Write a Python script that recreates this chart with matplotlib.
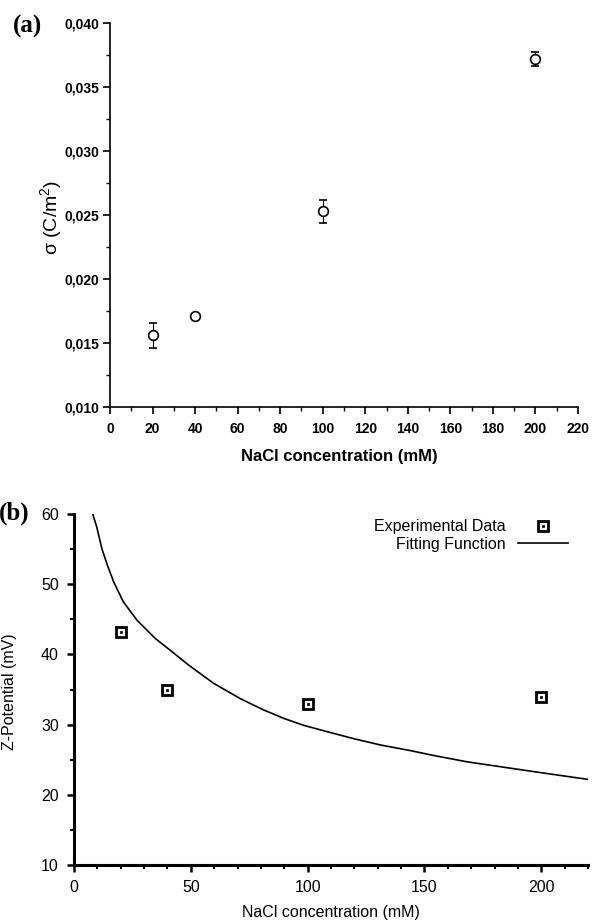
import numpy as np
import matplotlib
matplotlib.use('Agg')
import matplotlib.pyplot as plt
from matplotlib.ticker import MultipleLocator, FuncFormatter

plt.rcParams['font.family'] = ['Liberation Sans', 'DejaVu Sans']
plt.rcParams['mathtext.fontset'] = 'custom'
plt.rcParams['mathtext.rm'] = 'Liberation Sans'
plt.rcParams['mathtext.bf'] = 'Liberation Sans:bold'
plt.rcParams['mathtext.it'] = 'Liberation Sans:italic'

## panel (a): surface charge density vs NaCl concentration
conc_a = [20, 40, 100, 200]
sigma = [0.0156, 0.0171, 0.0253, 0.0372]
sigma_err = [0.0010, 0.0002, 0.0009, 0.00055]

## panel (b): zeta potential, measured points
conc_b = [20, 40, 100, 200]
zeta = [43.2, 34.9, 32.9, 33.9]

# fitting function
fit_x = [8.0, 9.7, 11.9, 14.3, 16.9, 21.1, 26.9, 34.7, 41.9, 49.0, 59.7,
         71.2, 81.1, 89.7, 98.3, 108.3, 119.7, 131.2, 144.0, 154.0, 168.3,
         182.6, 196.9, 220.0]
fit_y = [60.0, 58.2, 55.1, 52.7, 50.4, 47.5, 44.9, 42.3, 40.4, 38.5, 35.9,
         33.7, 32.1, 30.9, 29.9, 29.0, 28.0, 27.1, 26.3, 25.6, 24.7,
         24.0, 23.3, 22.2]

fig = plt.figure(figsize=(5.92, 9.23), dpi=100)

# ---------------- (a)
ax1 = fig.add_axes([0.1858, 0.5590, 0.7905, 0.4160])
ax1.errorbar(conc_a, sigma, yerr=sigma_err, fmt='o', mfc='white', mec='black',
             ms=7, mew=1.2, ecolor='black', elinewidth=0.8, capsize=3, capthick=0.8)
ax1.set_xlim(0, 220)
ax1.set_ylim(0.010, 0.040)
ax1.xaxis.set_major_locator(MultipleLocator(20))
ax1.xaxis.set_minor_locator(MultipleLocator(10))
ax1.yaxis.set_major_locator(MultipleLocator(0.005))
ax1.yaxis.set_minor_locator(MultipleLocator(0.0025))
ax1.yaxis.set_major_formatter(FuncFormatter(lambda v, p: ('%.3f' % v).replace('.', ',')))
for s in ['top', 'right']:
    ax1.spines[s].set_visible(False)
for s in ['left', 'bottom']:
    ax1.spines[s].set_linewidth(1.2)
ax1.tick_params(which='major', direction='out', length=5, width=1.2, labelsize=10, pad=3)
ax1.tick_params(which='minor', direction='out', length=3, width=1.0)
ax1.tick_params(axis='x', pad=6)
for lab in ax1.get_xticklabels() + ax1.get_yticklabels():
    lab.set_fontweight('bold')
ax1.set_xlabel('NaCl concentration (mM)', fontsize=12, fontweight='bold', va='center')
ax1.xaxis.set_label_coords(0.491, -0.130)
ax1.set_ylabel(r'σ (C/m$^{2}$)', fontsize=14, va='center')
ax1.yaxis.set_label_coords(-0.125, 0.495)
fig.text(0.047, 0.971, '(a)', family='Liberation Serif', fontweight='bold',
         fontsize=18, ha='center', va='center')

# ---------------- (b)
ax2 = fig.add_axes([0.125, 0.0628, 0.8682, 0.3803])
line_h, = ax2.plot(fit_x, fit_y, color='black', lw=1.2)
h1, = ax2.plot(conc_b, zeta, 's', ms=7, mfc='white', mec='black', mew=2.0, ls='none')
h2, = ax2.plot(conc_b, zeta, 's', ms=1.6, mfc='black', mec='black', mew=0.5, ls='none')
ax2.set_xlim(0, 220)
ax2.set_ylim(10, 60)
ax2.xaxis.set_major_locator(MultipleLocator(50))
ax2.xaxis.set_minor_locator(MultipleLocator(10))
ax2.yaxis.set_major_locator(MultipleLocator(10))
ax2.yaxis.set_minor_locator(MultipleLocator(5))
for s in ['top', 'right']:
    ax2.spines[s].set_visible(False)
for s in ['left', 'bottom']:
    ax2.spines[s].set_linewidth(2.2)
ax2.tick_params(which='major', direction='out', length=5, width=1.8, labelsize=11.5, pad=6)
ax2.tick_params(which='minor', direction='out', length=3, width=1.5)
ax2.set_xlabel('NaCl concentration (mM)', fontsize=11.5, va='center')
ax2.xaxis.set_label_coords(0.5, -0.134)
ax2.set_ylabel('Z-Potential (mV)', fontsize=11.5, va='center')
ax2.yaxis.set_label_coords(-0.126, 0.493)

ax2.legend([(h1, h2), line_h], ['Experimental Data', 'Fitting Function'],
           loc='upper right', bbox_to_anchor=(0.961, 0.985), frameon=False,
           markerfirst=False, fontsize=11.5, handlelength=3.1, handletextpad=0.8,
           labelspacing=0.15, borderpad=0, borderaxespad=0)
fig.text(0.024, 0.444, '(b)', family='Liberation Serif', fontweight='bold',
         fontsize=18, ha='center', va='center')

plt.savefig('out.png', dpi=100)
